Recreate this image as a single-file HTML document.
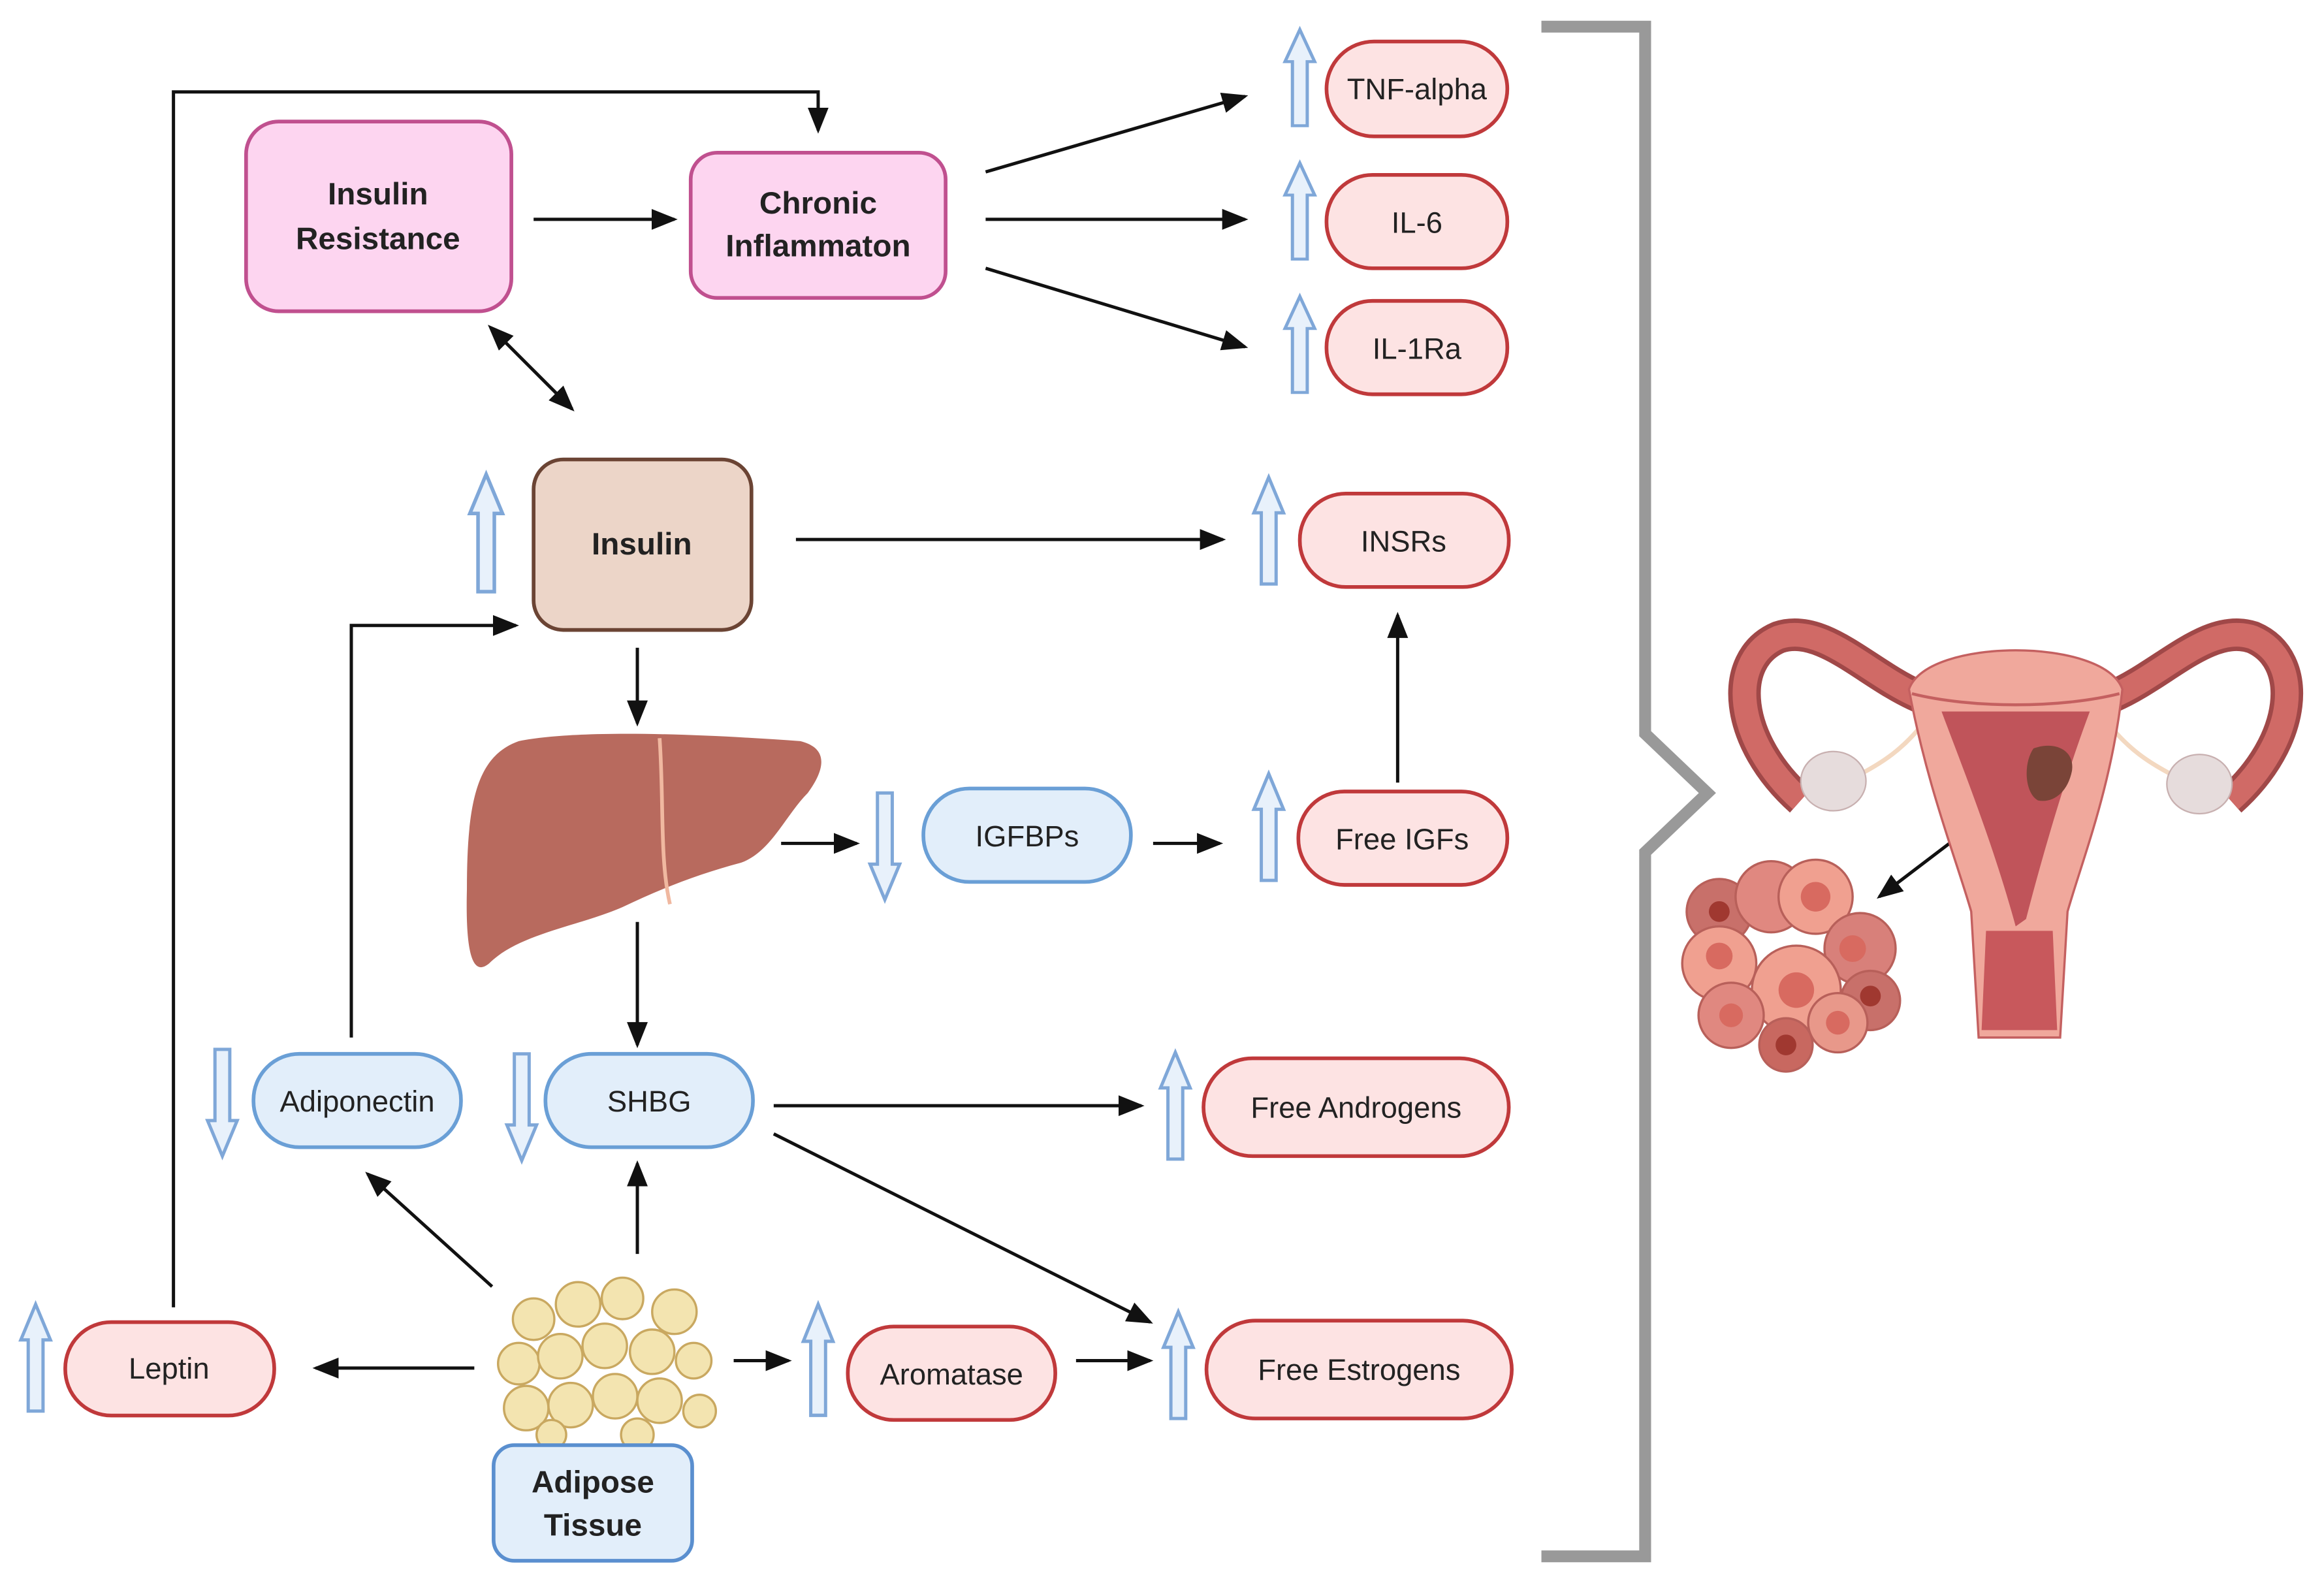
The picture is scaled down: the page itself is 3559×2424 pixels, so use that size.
<!DOCTYPE html>
<html><head><meta charset="utf-8"><style>
html,body{margin:0;padding:0;background:#fff}
svg{display:block}
text{font-family:"Liberation Sans",sans-serif;fill:#222}
.b{font-weight:bold;font-size:21px}
.t{font-size:20px}
</style></head><body>
<svg width="3559" height="2424" viewBox="0 0 1568 1068" xmlns="http://www.w3.org/2000/svg">
<defs>
<marker id="ah" markerWidth="8" markerHeight="8" refX="7" refY="4" orient="auto" markerUnits="strokeWidth">
<path d="M0,0.8 L8,4 L0,7.2 z" fill="#111"/></marker>
<marker id="as" markerWidth="8" markerHeight="8" refX="1" refY="4" orient="auto-start-reverse" markerUnits="strokeWidth">
<path d="M0,0.8 L8,4 L0,7.2 z" fill="#111"/></marker>
<path id="up" d="M0,0 L10,24 L5,24 L5,72 L-5,72 L-5,24 L-10,24 Z" fill="#e8f1fb" stroke="#7fa7d8" stroke-width="2.2" stroke-linejoin="miter"/>
</defs>
<g stroke="#111" stroke-width="2.2" fill="none">
<line x1="360" y1="148" x2="455" y2="148" marker-end="url(#ah)"/>
<line x1="665" y1="116" x2="840" y2="65" marker-end="url(#ah)"/>
<line x1="665" y1="148" x2="840" y2="148" marker-end="url(#ah)"/>
<line x1="665" y1="181" x2="840" y2="234" marker-end="url(#ah)"/>
<line x1="340" y1="230" x2="386" y2="276" marker-start="url(#as)" marker-end="url(#ah)"/>
<line x1="537" y1="364" x2="825" y2="364" marker-end="url(#ah)"/>
<line x1="943" y1="528" x2="943" y2="415" marker-end="url(#ah)"/>
<line x1="430" y1="437" x2="430" y2="488" marker-end="url(#ah)"/>
<line x1="527" y1="569" x2="578" y2="569" marker-end="url(#ah)"/>
<line x1="778" y1="569" x2="823" y2="569" marker-end="url(#ah)"/>
<line x1="430" y1="622" x2="430" y2="705" marker-end="url(#ah)"/>
<polyline points="117,882 117,62 552,62 552,88" marker-end="url(#ah)"/>
<polyline points="237,700 237,422 348,422" marker-end="url(#ah)"/>
<line x1="522" y1="746" x2="770" y2="746" marker-end="url(#ah)"/>
<line x1="522" y1="765" x2="776" y2="892" marker-end="url(#ah)"/>
<line x1="332" y1="868" x2="248" y2="792" marker-end="url(#ah)"/>
<line x1="430" y1="846" x2="430" y2="785" marker-end="url(#ah)"/>
<line x1="320" y1="923" x2="213" y2="923" marker-end="url(#ah)"/>
<line x1="495" y1="918" x2="532" y2="918" marker-end="url(#ah)"/>
<line x1="726" y1="918" x2="776" y2="918" marker-end="url(#ah)"/>
<line x1="1360" y1="535" x2="1268" y2="605" marker-end="url(#ah)"/>
</g>
<!-- hollow arrows -->
<use href="#up" transform="translate(877,20) scale(1,0.9)"/>
<use href="#up" transform="translate(877,110) scale(1,0.9)"/>
<use href="#up" transform="translate(877,200) scale(1,0.9)"/>
<use href="#up" transform="translate(328,320) scale(1.1,1.1)"/>
<use href="#up" transform="translate(856,322)"/>
<use href="#up" transform="translate(856,522)"/>
<use href="#up" transform="translate(597,607) rotate(180)"/>
<use href="#up" transform="translate(150,780) rotate(180)"/>
<use href="#up" transform="translate(352,783) rotate(180)"/>
<use href="#up" transform="translate(793,710)"/>
<use href="#up" transform="translate(24,880)"/>
<use href="#up" transform="translate(552,880) scale(1,1.04)"/>
<use href="#up" transform="translate(795,885)"/>
<!-- boxes -->
<rect x="166" y="82" width="179" height="128" rx="22" fill="#fdd5f0" stroke="#c0508f" stroke-width="2.5"/>
<text class="b" x="255" y="138" text-anchor="middle">Insulin</text>
<text class="b" x="255" y="168" text-anchor="middle">Resistance</text>
<rect x="466" y="103" width="172" height="98" rx="18" fill="#fdd5f0" stroke="#c0508f" stroke-width="2.5"/>
<text class="b" x="552" y="144" text-anchor="middle">Chronic</text>
<text class="b" x="552" y="173" text-anchor="middle">Inflammaton</text>
<rect x="360" y="310" width="147" height="115" rx="20" fill="#ecd5c8" stroke="#6b4434" stroke-width="2.5"/>
<text class="b" x="433" y="374" text-anchor="middle">Insulin</text>
<g stroke="#c0393b" stroke-width="2.5" fill="#fde3e3">
<rect x="895" y="28" width="122" height="64" rx="32"/>
<rect x="895" y="118" width="122" height="63" rx="31"/>
<rect x="895" y="203" width="122" height="63" rx="31"/>
<rect x="877" y="333" width="141" height="63" rx="31"/>
<rect x="876" y="534" width="141" height="63" rx="31"/>
<rect x="812" y="714" width="206" height="66" rx="33"/>
<rect x="44" y="892" width="141" height="63" rx="31"/>
<rect x="572" y="895" width="140" height="63" rx="31"/>
<rect x="814" y="891" width="206" height="66" rx="33"/>
</g>
<g stroke="#6a9fd6" stroke-width="2.5" fill="#e2eefa">
<rect x="623" y="532" width="140" height="63" rx="31"/>
<rect x="171" y="711" width="140" height="63" rx="31"/>
<rect x="368" y="711" width="140" height="63" rx="31"/>
</g>
<g class="t" text-anchor="middle">
<text x="956" y="67">TNF-alpha</text>
<text x="956" y="157">IL-6</text>
<text x="956" y="242">IL-1Ra</text>
<text x="947" y="372">INSRs</text>
<text x="946" y="573">Free IGFs</text>
<text x="693" y="571">IGFBPs</text>
<text x="241" y="750">Adiponectin</text>
<text x="438" y="750">SHBG</text>
<text x="915" y="754">Free Androgens</text>
<text x="114" y="930">Leptin</text>
<text x="642" y="934">Aromatase</text>
<text x="917" y="931">Free Estrogens</text>
</g>
<!-- liver -->
<path d="M350,500 C390,492 470,495 540,500 C560,505 556,520 545,535 C530,550 520,575 500,582 C470,590 445,600 420,612 C390,625 350,630 330,650 C318,660 314,640 315,600 C315,540 322,510 350,500 Z" fill="#b86a5e"/>
<path d="M445,498 C448,540 445,580 452,610" stroke="#f0b8a0" stroke-width="2.5" fill="none"/>
<!-- adipose -->
<g fill="#f3e4b0" stroke="#c9a860" stroke-width="1.5">
<circle cx="360" cy="890" r="14"/><circle cx="390" cy="880" r="15"/><circle cx="420" cy="876" r="14"/><circle cx="455" cy="885" r="15"/>
<circle cx="350" cy="920" r="14"/><circle cx="378" cy="915" r="15"/><circle cx="408" cy="908" r="15"/><circle cx="440" cy="912" r="15"/><circle cx="468" cy="918" r="12"/>
<circle cx="355" cy="950" r="15"/><circle cx="385" cy="948" r="15"/><circle cx="415" cy="942" r="15"/><circle cx="445" cy="945" r="15"/><circle cx="472" cy="952" r="11"/>
<circle cx="372" cy="968" r="10"/><circle cx="430" cy="968" r="11"/>
</g>
<rect x="333" y="975" width="134" height="78" rx="14" fill="#e2eefa" stroke="#5a8fcf" stroke-width="2.5"/>
<text class="b" x="400" y="1007" text-anchor="middle">Adipose</text>
<text class="b" x="400" y="1036" text-anchor="middle">Tissue</text>
<!-- bracket -->
<polyline points="1040,18 1110,18 1110,495 1152,535 1110,575 1110,1050 1040,1050" fill="none" stroke="#999" stroke-width="8"/>
<!-- uterus -->
<g>
<path d="M1295,470 C1260,455 1230,420 1200,430 C1165,445 1170,500 1215,540" fill="none" stroke="#a04848" stroke-width="22"/>
<path d="M1295,470 C1260,455 1230,420 1200,430 C1165,445 1170,500 1215,540" fill="none" stroke="#d06a66" stroke-width="16"/>
<path d="M1425,470 C1460,455 1490,420 1520,430 C1555,445 1550,500 1505,540" fill="none" stroke="#a04848" stroke-width="22"/>
<path d="M1425,470 C1460,455 1490,420 1520,430 C1555,445 1550,500 1505,540" fill="none" stroke="#d06a66" stroke-width="16"/>
<path d="M1250,525 C1270,515 1285,505 1300,485 M1470,525 C1450,515 1435,505 1420,485" stroke="#f3d8c0" stroke-width="3" fill="none"/>
<ellipse cx="1237" cy="527" rx="22" ry="20" fill="#e6dcdc" stroke="#c8b0b0"/>
<ellipse cx="1484" cy="529" rx="22" ry="20" fill="#e6dcdc" stroke="#c8b0b0"/>
<path d="M1288,465 C1300,430 1420,430 1432,465 C1425,530 1405,580 1395,615 L1390,700 L1335,700 L1330,615 C1320,580 1300,530 1288,465 Z" fill="#f0a89c" stroke="#c46060" stroke-width="1.5"/>
<path d="M1290,468 C1330,478 1390,478 1430,468" fill="none" stroke="#c46060" stroke-width="2"/>
<path d="M1310,480 L1410,480 C1395,520 1380,570 1367,620 L1360,625 C1345,570 1325,520 1310,480 Z" fill="#c0545a"/>
<path d="M1340,628 L1385,628 L1388,695 L1337,695 Z" fill="#c8585c"/>
<path d="M1372,505 C1385,500 1400,505 1398,520 C1395,535 1385,542 1375,540 C1366,535 1365,515 1372,505 Z" fill="#7a4438"/>
</g>
<!-- tumor cluster -->
<g stroke="#b8605a" stroke-width="1.5">
<circle cx="1160" cy="615" r="22" fill="#c8706a"/>
<circle cx="1195" cy="605" r="24" fill="#e08880"/>
<circle cx="1225" cy="605" r="25" fill="#f0a090"/>
<circle cx="1255" cy="640" r="24" fill="#d8807a"/>
<circle cx="1160" cy="650" r="25" fill="#f0a090"/>
<circle cx="1212" cy="668" r="30" fill="#f0a090"/>
<circle cx="1168" cy="685" r="22" fill="#e08880"/>
<circle cx="1262" cy="675" r="20" fill="#c8706a"/>
<circle cx="1240" cy="690" r="20" fill="#e8988a"/>
<circle cx="1205" cy="705" r="18" fill="#c86860"/>
</g>
<g fill="#d86a60">
<circle cx="1225" cy="605" r="10"/><circle cx="1212" cy="668" r="12"/><circle cx="1160" cy="645" r="9"/><circle cx="1250" cy="640" r="9"/><circle cx="1168" cy="685" r="8"/><circle cx="1240" cy="690" r="8"/>
</g>
<g fill="#a03830"><circle cx="1205" cy="705" r="7"/><circle cx="1262" cy="672" r="7"/><circle cx="1160" cy="615" r="7"/></g>
</svg>
</body></html>
